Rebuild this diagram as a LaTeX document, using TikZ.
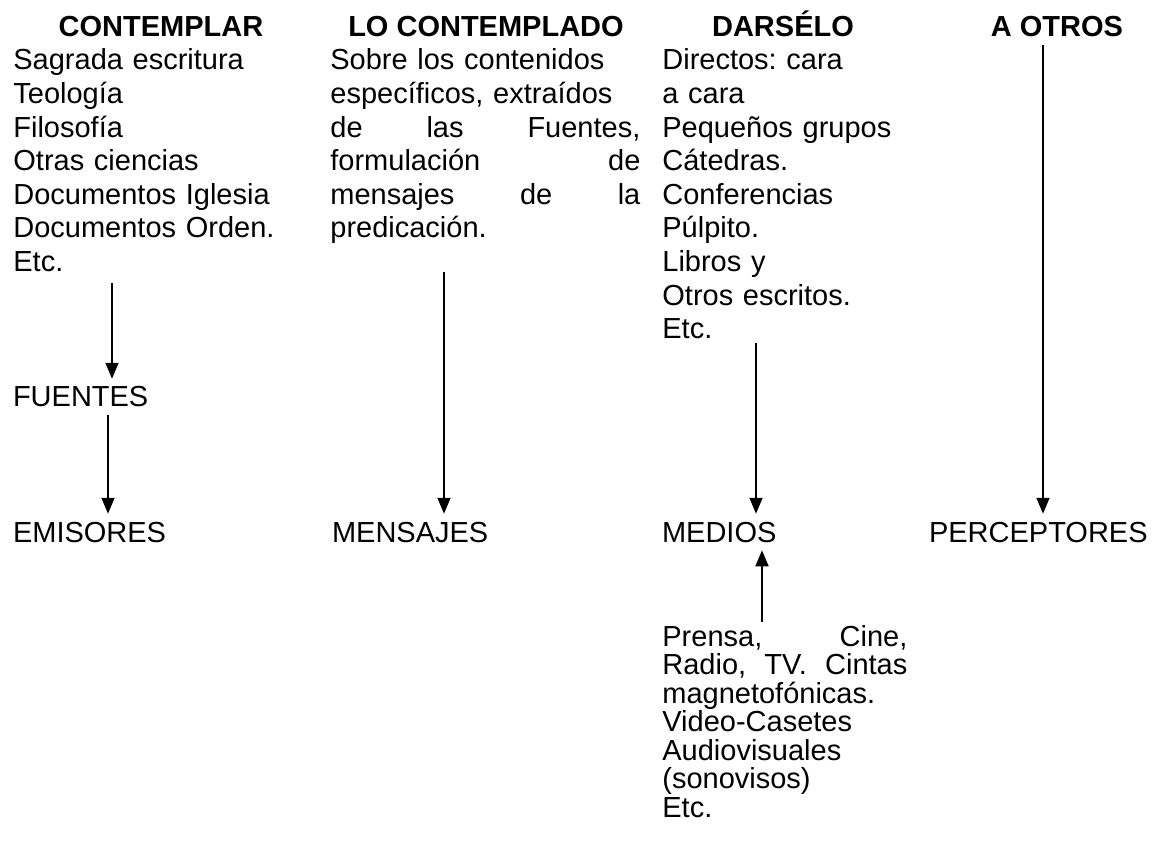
\documentclass[tikz,border=0pt]{standalone}
\usepackage{fontspec}
\setmainfont{Liberation Sans}
\usetikzlibrary{arrows.meta}
\usetikzlibrary{positioning}

\frenchspacing
\lineskiplimit=-100pt

\tikzset{
  hd/.style={inner sep=0pt, anchor=base, font=\fontsize{14.5pt}{16.8pt}\selectfont\bfseries},
  txt/.style={inner sep=0pt, anchor=base west, align=left, font=\fontsize{14.5pt}{16.8pt}\selectfont},
  lbl/.style={inner sep=0pt, outer xsep=0pt, outer ysep=4pt, anchor=base west, font=\fontsize{14.5pt}{16.8pt}\selectfont},
  arr/.style={-{Triangle[width=6.5pt,length=8pt]}, line width=0.8pt},
}

\begin{document}
\begin{tikzpicture}[x=0.5pt, y=-0.5pt]
\useasboundingbox (0,0) rectangle (1152,845);

% headings
\node[hd] (contemplar) at (161,37) {CONTEMPLAR};
\node[hd] (contemplado) at (486,37) {LO CONTEMPLADO};
\node[hd] (darselo) at (783,37) {DARSÉLO};
\node[hd] (otros) at (1057,37) {A OTROS};

% columns
\node[txt, text width=150pt] (fuentestxt) at (13,70) {Sagrada escritura\\Teología\\Filosofía\\Otras ciencias\\Documentos Iglesia\\Documentos Orden.\\Etc.};
\node[txt, text width=155pt] (mensajestxt) at (330,70) {Sobre los contenidos\\específicos, extraídos\\\makebox[155pt]{de\hfill las\hfill Fuentes,}\\\makebox[155pt]{formulación\hfill de}\\\makebox[155pt]{mensajes\hfill de\hfill la}\\predicación.};
\node[txt, text width=120pt] (directos) at (662,70) {Directos: cara\\a cara\\Pequeños grupos\\Cátedras.\\Conferencias\\Púlpito.\\Libros y\\Otros escritos.\\Etc.};
\node[txt, text width=122.5pt, font=\fontsize{14.5pt}{14.25pt}\selectfont] (prensa) at (662,646) {\makebox[122.5pt]{Prensa,\hfill Cine,}\\\makebox[122.5pt]{Radio,\hfill TV.\hfill Cintas}\\magnetofónicas.\\Video-Casetes\\Audiovisuales\\(sonovisos)\\Etc.};

% labels
\node[lbl] (fuentes) at (13,407) {FUENTES};
\node[lbl] (emisores) at (13,542) {EMISORES};
\node[lbl] (mensajes) at (332,542) {MENSAJES};
\node[lbl] (medios) at (662,542) {MEDIOS};
\node[lbl] (perceptores) at (929,542) {PERCEPTORES};

\coordinate (s1) at (112,283);
\coordinate (s2) at (444,272);
\coordinate (s3) at (756,343);
\coordinate (s4) at (1043,45);
\coordinate (s5) at (762,622);

\path[draw, arr] (s1) -- (s1 |- fuentes.north);
\path[draw, arr] (fuentes.south -| 108,0) -- (108,0 |- emisores.north);
\path[draw, arr] (s2) -- (s2 |- mensajes.north);
\path[draw, arr] (s3) -- (s3 |- medios.north);
\path[draw, arr] (s4) -- (s4 |- perceptores.north);
\path[draw, arr] (s5) -- (s5 |- medios.south);

\end{tikzpicture}
\end{document}
